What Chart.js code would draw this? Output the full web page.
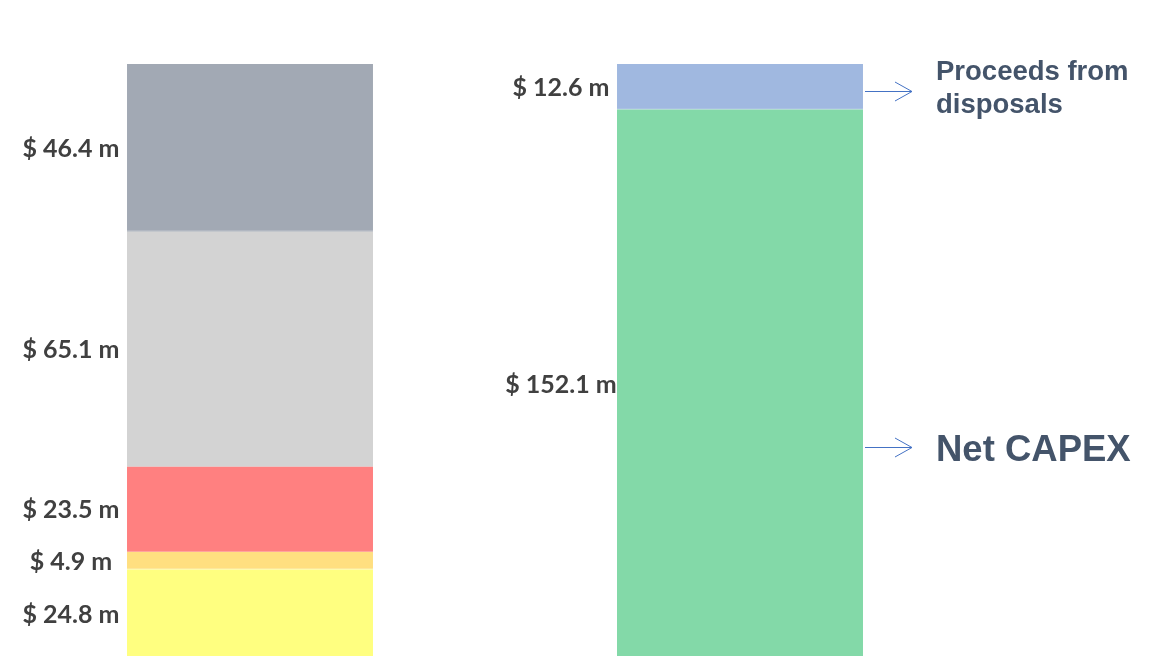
<!DOCTYPE html>
<html>
<head>
<meta charset="utf-8">
<script src="https://cdn.jsdelivr.net/npm/chart.js@4/dist/chart.umd.min.js"></script>
<style>
  html, body { margin: 0; padding: 0; background: #ffffff; overflow: hidden; }
  #wrap { width: 1160px; height: 659px; position: relative; }
</style>
</head>
<body>
<div id="wrap"><canvas id="c"></canvas></div>
<script>
// ---- data ----
const categories = ['Gross CAPEX', 'Net CAPEX'];
const leftValues = [24.8, 4.9, 23.5, 65.1, 46.4];      // bottom -> top
const leftColors = ['#FFFF80', '#FFDF80', '#FF8080', '#D3D3D3', '#A2A9B4'];
const rightValues = [152.1, 12.6];                     // bottom -> top
const rightColors = ['#83D9A8', '#A0B8E0'];
const annotationLines = [['Proceeds from', 'disposals'], ['Net CAPEX']];
const annotationValues = [157.2, 58.7];                // y-values where arrows point
const annotationSizes = [27.5, 36.5];

const total = leftValues.reduce((a, b) => a + b, 0);

const datasets = [];
leftValues.forEach((v, i) => {
  const ds = {
    data: [v, null],
    backgroundColor: leftColors[i],
    stack: 's',
    categoryPercentage: 1,
    barPercentage: 0.502,
    borderSkipped: false,
    borderWidth: 0,
    side: 0
  };
  if (i === 4) { ds.borderWidth = {top: 0, left: 0, right: 0, bottom: 1}; ds.borderColor = '#8C95A2'; }
  if (i === 1) { ds.borderWidth = {top: 0, left: 0, right: 0, bottom: 1}; ds.borderColor = '#F8E070'; }
  datasets.push(ds);
});
rightValues.forEach((v, i) => {
  const ds = {
    data: [null, v],
    backgroundColor: rightColors[i],
    stack: 's',
    categoryPercentage: 1,
    barPercentage: 0.502,
    borderSkipped: false,
    borderWidth: 0,
    side: 1
  };
  if (i === 1) { ds.borderWidth = {top: 0, left: 0, right: 0, bottom: 1}; ds.borderColor = '#6F93CF'; }
  datasets.push(ds);
});

const labelPlugin = {
  id: 'labels',
  afterDatasetsDraw(chart) {
    const ctx = chart.ctx;
    ctx.save();
    ctx.fillStyle = '#404040';
    ctx.font = 'bold 25px Lato';
    ctx.textAlign = 'center';
    ctx.textBaseline = 'middle';
    chart.data.datasets.forEach((ds, di) => {
      const meta = chart.getDatasetMeta(di);
      const idx = ds.side;
      const el = meta.data[idx];
      const v = ds.data[idx];
      if (!el || v == null) return;
      const left = el.x - el.width / 2;
      const cy = (el.y + el.base) / 2;
      ctx.fillText('$ ' + v.toFixed(1) + ' m', left - 56, cy + 1);
    });

    // annotations with arrows
    const rightMeta = chart.getDatasetMeta(datasets.length - 1);
    const rEl = rightMeta.data[1];
    const rightEdge = rEl.x + rEl.width / 2;
    const yScale = chart.scales.y;
    annotationLines.forEach((lines, i) => {
      const ay = Math.round(yScale.getPixelForValue(annotationValues[i])) + 0.5;
      const x0 = rightEdge + 2, x1 = rightEdge + 49;
      ctx.strokeStyle = '#4472C4';
      ctx.lineWidth = 1;
      ctx.beginPath();
      ctx.moveTo(x0, ay); ctx.lineTo(x1, ay);
      ctx.moveTo(x1 - 17, ay - 9.5); ctx.lineTo(x1, ay); ctx.lineTo(x1 - 17, ay + 9.5);
      ctx.stroke();
      ctx.fillStyle = '#44546A';
      ctx.font = 'bold ' + annotationSizes[i] + 'px "Liberation Sans", Arial, sans-serif';
      ctx.textAlign = 'left';
      ctx.textBaseline = 'alphabetic';
      const tx = rightEdge + 73;
      if (lines.length === 2) {
        ctx.fillText(lines[0], tx, ay - 12);
        ctx.fillText(lines[1], tx, ay + 21);
      } else {
        ctx.fillText(lines[0], tx, ay + 13);
      }
    });
    ctx.restore();
  }
};

new Chart(document.getElementById('c'), {
  type: 'bar',
  data: { labels: categories, datasets: datasets },
  options: {
    responsive: true,
    maintainAspectRatio: false,
    animation: false,
    layout: { padding: { top: 64, bottom: 0, left: 5, right: 175 } },
    plugins: { legend: { display: false }, tooltip: { enabled: false } },
    scales: {
      x: { display: false, stacked: true },
      y: { display: false, stacked: true, min: 0, max: total }
    }
  },
  plugins: [labelPlugin]
});
</script>
</body>
</html>
